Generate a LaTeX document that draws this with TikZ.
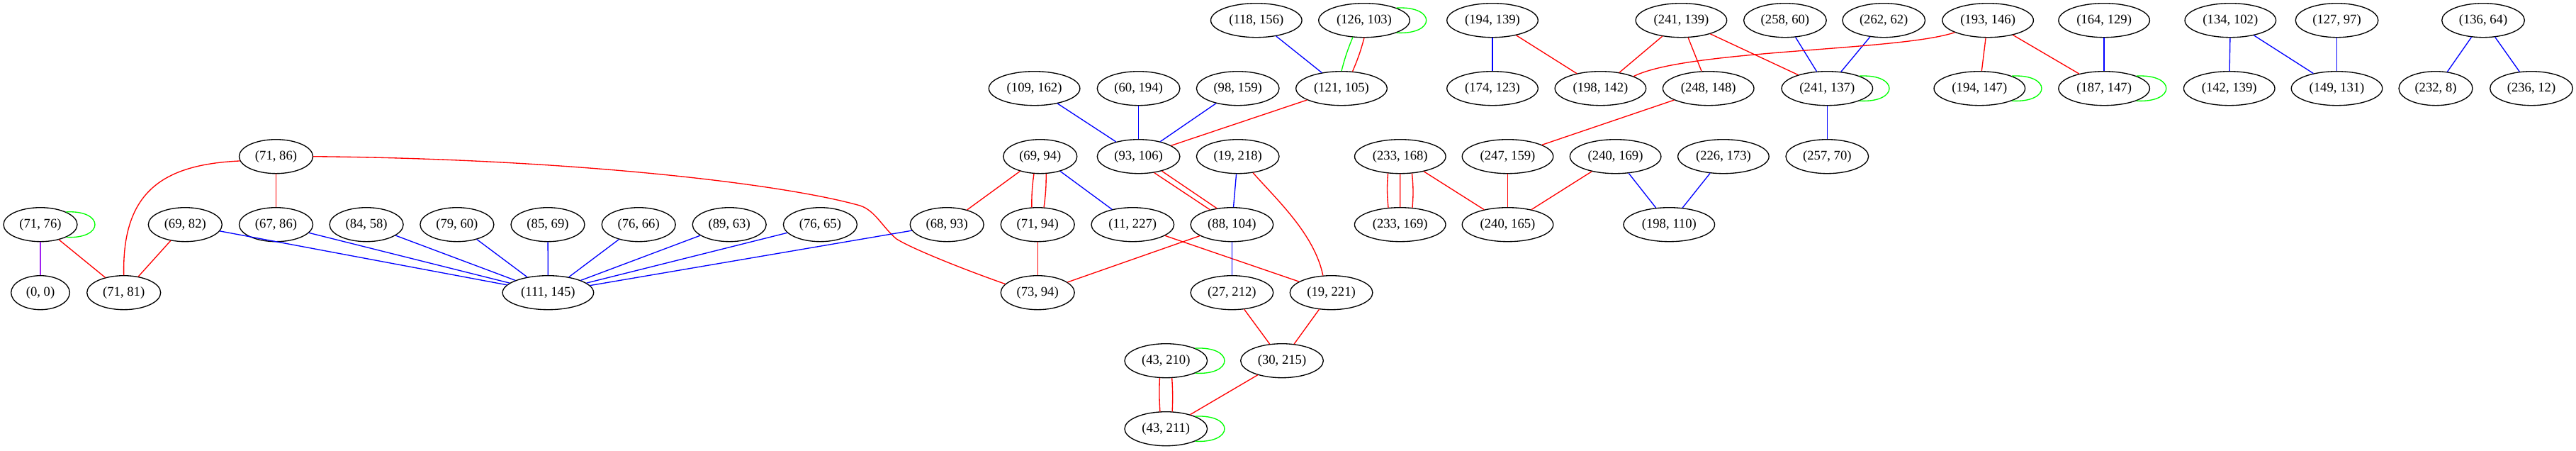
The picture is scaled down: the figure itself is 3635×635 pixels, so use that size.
\documentclass[tikz,border=0pt]{standalone}
\usepackage{fontspec}
\setmainfont{Liberation Serif}
\usetikzlibrary{shapes.geometric}
\definecolor{gvred}{RGB}{255,0,0}
\definecolor{gvblue}{RGB}{0,0,255}
\definecolor{gvgreen}{RGB}{0,255,0}
\definecolor{gvpurple}{RGB}{160,32,240}
\tikzset{
  nd/.style={ellipse, draw=black, line width=1pt, minimum height=36pt, inner sep=0pt, font=\fontsize{14}{16}\selectfont},
  wa/.style={nd, minimum width=62pt},
  wb/.style={nd, minimum width=78pt},
  wc/.style={nd, minimum width=87.5pt},
  wd/.style={nd, minimum width=96.4pt},
  er/.style={draw=gvred, line width=1pt},
  eb/.style={draw=gvblue, line width=1pt},
  eg/.style={draw=gvgreen, line width=1pt},
  ep/.style={draw=gvpurple, line width=1pt}
}
\begin{document}
\begin{tikzpicture}[x=0.75pt,y=-0.75pt]
\useasboundingbox (0,0) rectangle (3635,635);
% row 0
\node[wd] (n118156) at (1772.8,28.7) {(118, 156)};
\node[wd] (n126103) at (1925,28.7) {(126, 103)};
\node[wd] (n194139) at (2106,28.7) {(194, 139)};
\node[wd] (n241139) at (2372.4,28.7) {(241, 139)};
\node[wc] (n25860) at (2518.9,28.7) {(258, 60)};
\node[wc] (n26262) at (2658.2,28.7) {(262, 62)};
\node[wd] (n193146) at (2805.1,28.7) {(193, 146)};
\node[wd] (n164129) at (2969.1,28.7) {(164, 129)};
\node[wd] (n134102) at (3147.3,28.7) {(134, 102)};
\node[wc] (n12797) at (3297.5,28.7) {(127, 97)};
\node[wc] (n13664) at (3504,28.7) {(136, 64)};
% row 1
\node[wd] (n109162) at (1459.6,124.7) {(109, 162)};
\node[wc] (n60194) at (1606.6,124.7) {(60, 194)};
\node[wc] (n98159) at (1746.7,124.7) {(98, 159)};
\node[wd] (n121105) at (1893,124.7) {(121, 105)};
\node[wd] (n174123) at (2106,124.7) {(174, 123)};
\node[wd] (n198142) at (2258.4,124.7) {(198, 142)};
\node[wd] (n248148) at (2410.7,124.7) {(248, 148)};
\node[wd] (n241137) at (2578.3,124.7) {(241, 137)};
\node[wd] (n194147) at (2793.3,124.7) {(194, 147)};
\node[wd] (n187147) at (2969.1,124.7) {(187, 147)};
\node[wd] (n142139) at (3145.7,124.7) {(142, 139)};
\node[wd] (n149131) at (3297.5,124.7) {(149, 131)};
\node[wb] (n2328) at (3437,124.7) {(232, 8)};
\node[wc] (n23612) at (3572,124.7) {(236, 12)};
% row 2
\node[wb] (n7186) at (389.5,220.7) {(71, 86)};
\node[wb] (n6994) at (1467.8,220.7) {(69, 94)};
\node[wc] (n93106) at (1606.6,220.7) {(93, 106)};
\node[wc] (n19218) at (1746.7,220.7) {(19, 218)};
\node[wd] (n233168) at (1975.8,220.7) {(233, 168)};
\node[wd] (n247159) at (2127.5,220.7) {(247, 159)};
\node[wd] (n240169) at (2279.6,220.7) {(240, 169)};
\node[wd] (n226173) at (2431.9,220.7) {(226, 173)};
\node[wc] (n25770) at (2578.3,220.7) {(257, 70)};
% row 3
\node[wb] (n7176) at (57,316.7) {(71, 76)};
\node[wb] (n6982) at (261.3,316.7) {(69, 82)};
\node[wb] (n6786) at (389.5,316.7) {(67, 86)};
\node[wb] (n8458) at (517.1,316.7) {(84, 58)};
\node[wb] (n7960) at (644.9,316.7) {(79, 60)};
\node[wb] (n8569) at (773,316.7) {(85, 69)};
\node[wb] (n7666) at (901.2,316.7) {(76, 66)};
\node[wb] (n8963) at (1029.2,316.7) {(89, 63)};
\node[wb] (n7665) at (1157.4,316.7) {(76, 65)};
\node[wb] (n6893) at (1336.2,316.7) {(68, 93)};
\node[wb] (n7194) at (1464.2,316.7) {(71, 94)};
\node[wc] (n11227) at (1598.3,316.7) {(11, 227)};
\node[wc] (n88104) at (1738.4,316.7) {(88, 104)};
\node[wd] (n233169) at (1975.7,316.7) {(233, 169)};
\node[wd] (n240165) at (2127.5,316.7) {(240, 165)};
\node[wd] (n198110) at (2355.3,316.7) {(198, 110)};
% row 4
\node[wa] (n00) at (57,412.7) {(0, 0)};
\node[wb] (n7181) at (174.7,412.7) {(71, 81)};
\node[wd] (n111145) at (773.4,412.7) {(111, 145)};
\node[wb] (n7394) at (1464.2,412.7) {(73, 94)};
\node[wc] (n27212) at (1738.4,412.7) {(27, 212)};
\node[wc] (n19221) at (1878.6,412.7) {(19, 221)};
% row 5, 6
\node[wc] (n43210) at (1645.3,508.7) {(43, 210)};
\node[wc] (n30215) at (1809,508.7) {(30, 215)};
\node[wc] (n43211) at (1645.3,604.7) {(43, 211)};

% self loops
\draw[eg] (n7176.26) .. controls +(54,-3) and +(54,3) .. (n7176.-26);
\draw[eg] (n126103.21.5) .. controls +(56,-3) and +(56,3) .. (n126103.-21.5);
\draw[eg] (n241137.21.5) .. controls +(56,-3) and +(56,3) .. (n241137.-21.5);
\draw[eg] (n194147.21.5) .. controls +(56,-3) and +(56,3) .. (n194147.-21.5);
\draw[eg] (n187147.21.5) .. controls +(56,-3) and +(56,3) .. (n187147.-21.5);
\draw[eg] (n43210.23.5) .. controls +(55,-3) and +(55,3) .. (n43210.-23.5);
\draw[eg] (n43211.23.5) .. controls +(55,-3) and +(55,3) .. (n43211.-23.5);

% left cluster
\draw[ep] (n7176) -- (n00);
\draw[er] (n7176) -- (n7181);
\draw[er] (n6982) -- (n7181);
\draw[er] (n7186.187) .. controls (230,232) and (172,270) .. (n7181.north);
\draw[er] (n7186) -- (n6786);
\draw[er] (n7186.east) .. controls (800,224) and (1100,258) .. (1213.7,290)
  .. controls (1235,297) and (1245,320) .. (1264.7,336.7)
  .. controls (1285,350) and (1360,380) .. (n7394.165);
\draw[eb] (n6982) -- (n111145);
\draw[eb] (n6786) -- (n111145);
\draw[eb] (n8458) -- (n111145);
\draw[eb] (n7960) -- (n111145);
\draw[eb] (n8569) -- (n111145);
\draw[eb] (n7666) -- (n111145);
\draw[eb] (n8963) -- (n111145);
\draw[eb] (n7665) -- (n111145);
\draw[eb] (n6893) -- (n111145);

% middle cluster
\draw[er] (n6994) -- (n6893);
\draw[er] (n6994.250.7) to[bend right=4] (n7194.109.3);
\draw[er] (n6994.289.3) to[bend left=4] (n7194.70.7);
\draw[eb] (n6994) -- (n11227);
\draw[er] (n7194) -- (n7394);
\draw[er] (n88104) -- (n7394);
\draw[er] (n11227) -- (n19221);
\draw[eb] (n109162) -- (n93106);
\draw[eb] (n60194) -- (n93106);
\draw[eb] (n98159) -- (n93106);
\draw[er] (n121105) -- (n93106);
\draw[eb] (n118156) -- (n121105);
\draw[eg] (n126103.236) to[bend right=4] (n121105.90);
\draw[er] (n126103.270) to[bend left=4] (n121105.57);
\draw[er] (n93106.-46) -- (n88104.146);
\draw[er] (n93106.-32) -- (n88104.133);
\draw[eb] (n19218) -- (n88104);
\draw[er] (n19218.-47) .. controls (1800,280) and (1855,330) .. (n19221.116);
\draw[eb] (n88104) -- (n27212);
\draw[er] (n27212) -- (n30215);
\draw[er] (n19221) -- (n30215);
\draw[er] (n30215) -- (n43211);
\draw[er] (n43210.250.7) to[bend right=3] (n43211.109.3);
\draw[er] (n43210.289.3) to[bend left=3] (n43211.70.7);

% right-middle cluster
\draw[er] (n233168.234.6) to[bend right=5] (n233169.125.4);
\draw[er] (n233168) -- (n233169);
\draw[er] (n233168.305.4) to[bend left=5] (n233169.54.6);
\draw[er] (n233168) -- (n240165);
\draw[er] (n247159) -- (n240165);
\draw[er] (n240169) -- (n240165);
\draw[eb] (n240169) -- (n198110);
\draw[eb] (n226173) -- (n198110);
\draw[er] (n248148) -- (n247159);
\draw[eb] (n194139) -- (n174123);
\draw[er] (n194139) -- (n198142);
\draw[er] (n241139) -- (n198142);
\draw[er] (n241139) -- (n248148);
\draw[er] (n241139) -- (n241137);
\draw[eb] (n25860) -- (n241137);
\draw[eb] (n26262) -- (n241137);
\draw[eb] (n241137) -- (n25770);
\draw[er] (n193146.200) .. controls (2680,72) and (2380,70) .. (n198142.20);
\draw[er] (n193146) -- (n194147);
\draw[er] (n193146) -- (n187147);
\draw[eb] (n164129) -- (n187147);

% right cluster
\draw[eb] (n134102) -- (n142139);
\draw[eb] (n134102) -- (n149131);
\draw[eb] (n12797) -- (n149131);
\draw[eb] (n13664) -- (n2328);
\draw[eb] (n13664) -- (n23612);
\end{tikzpicture}
\end{document}
